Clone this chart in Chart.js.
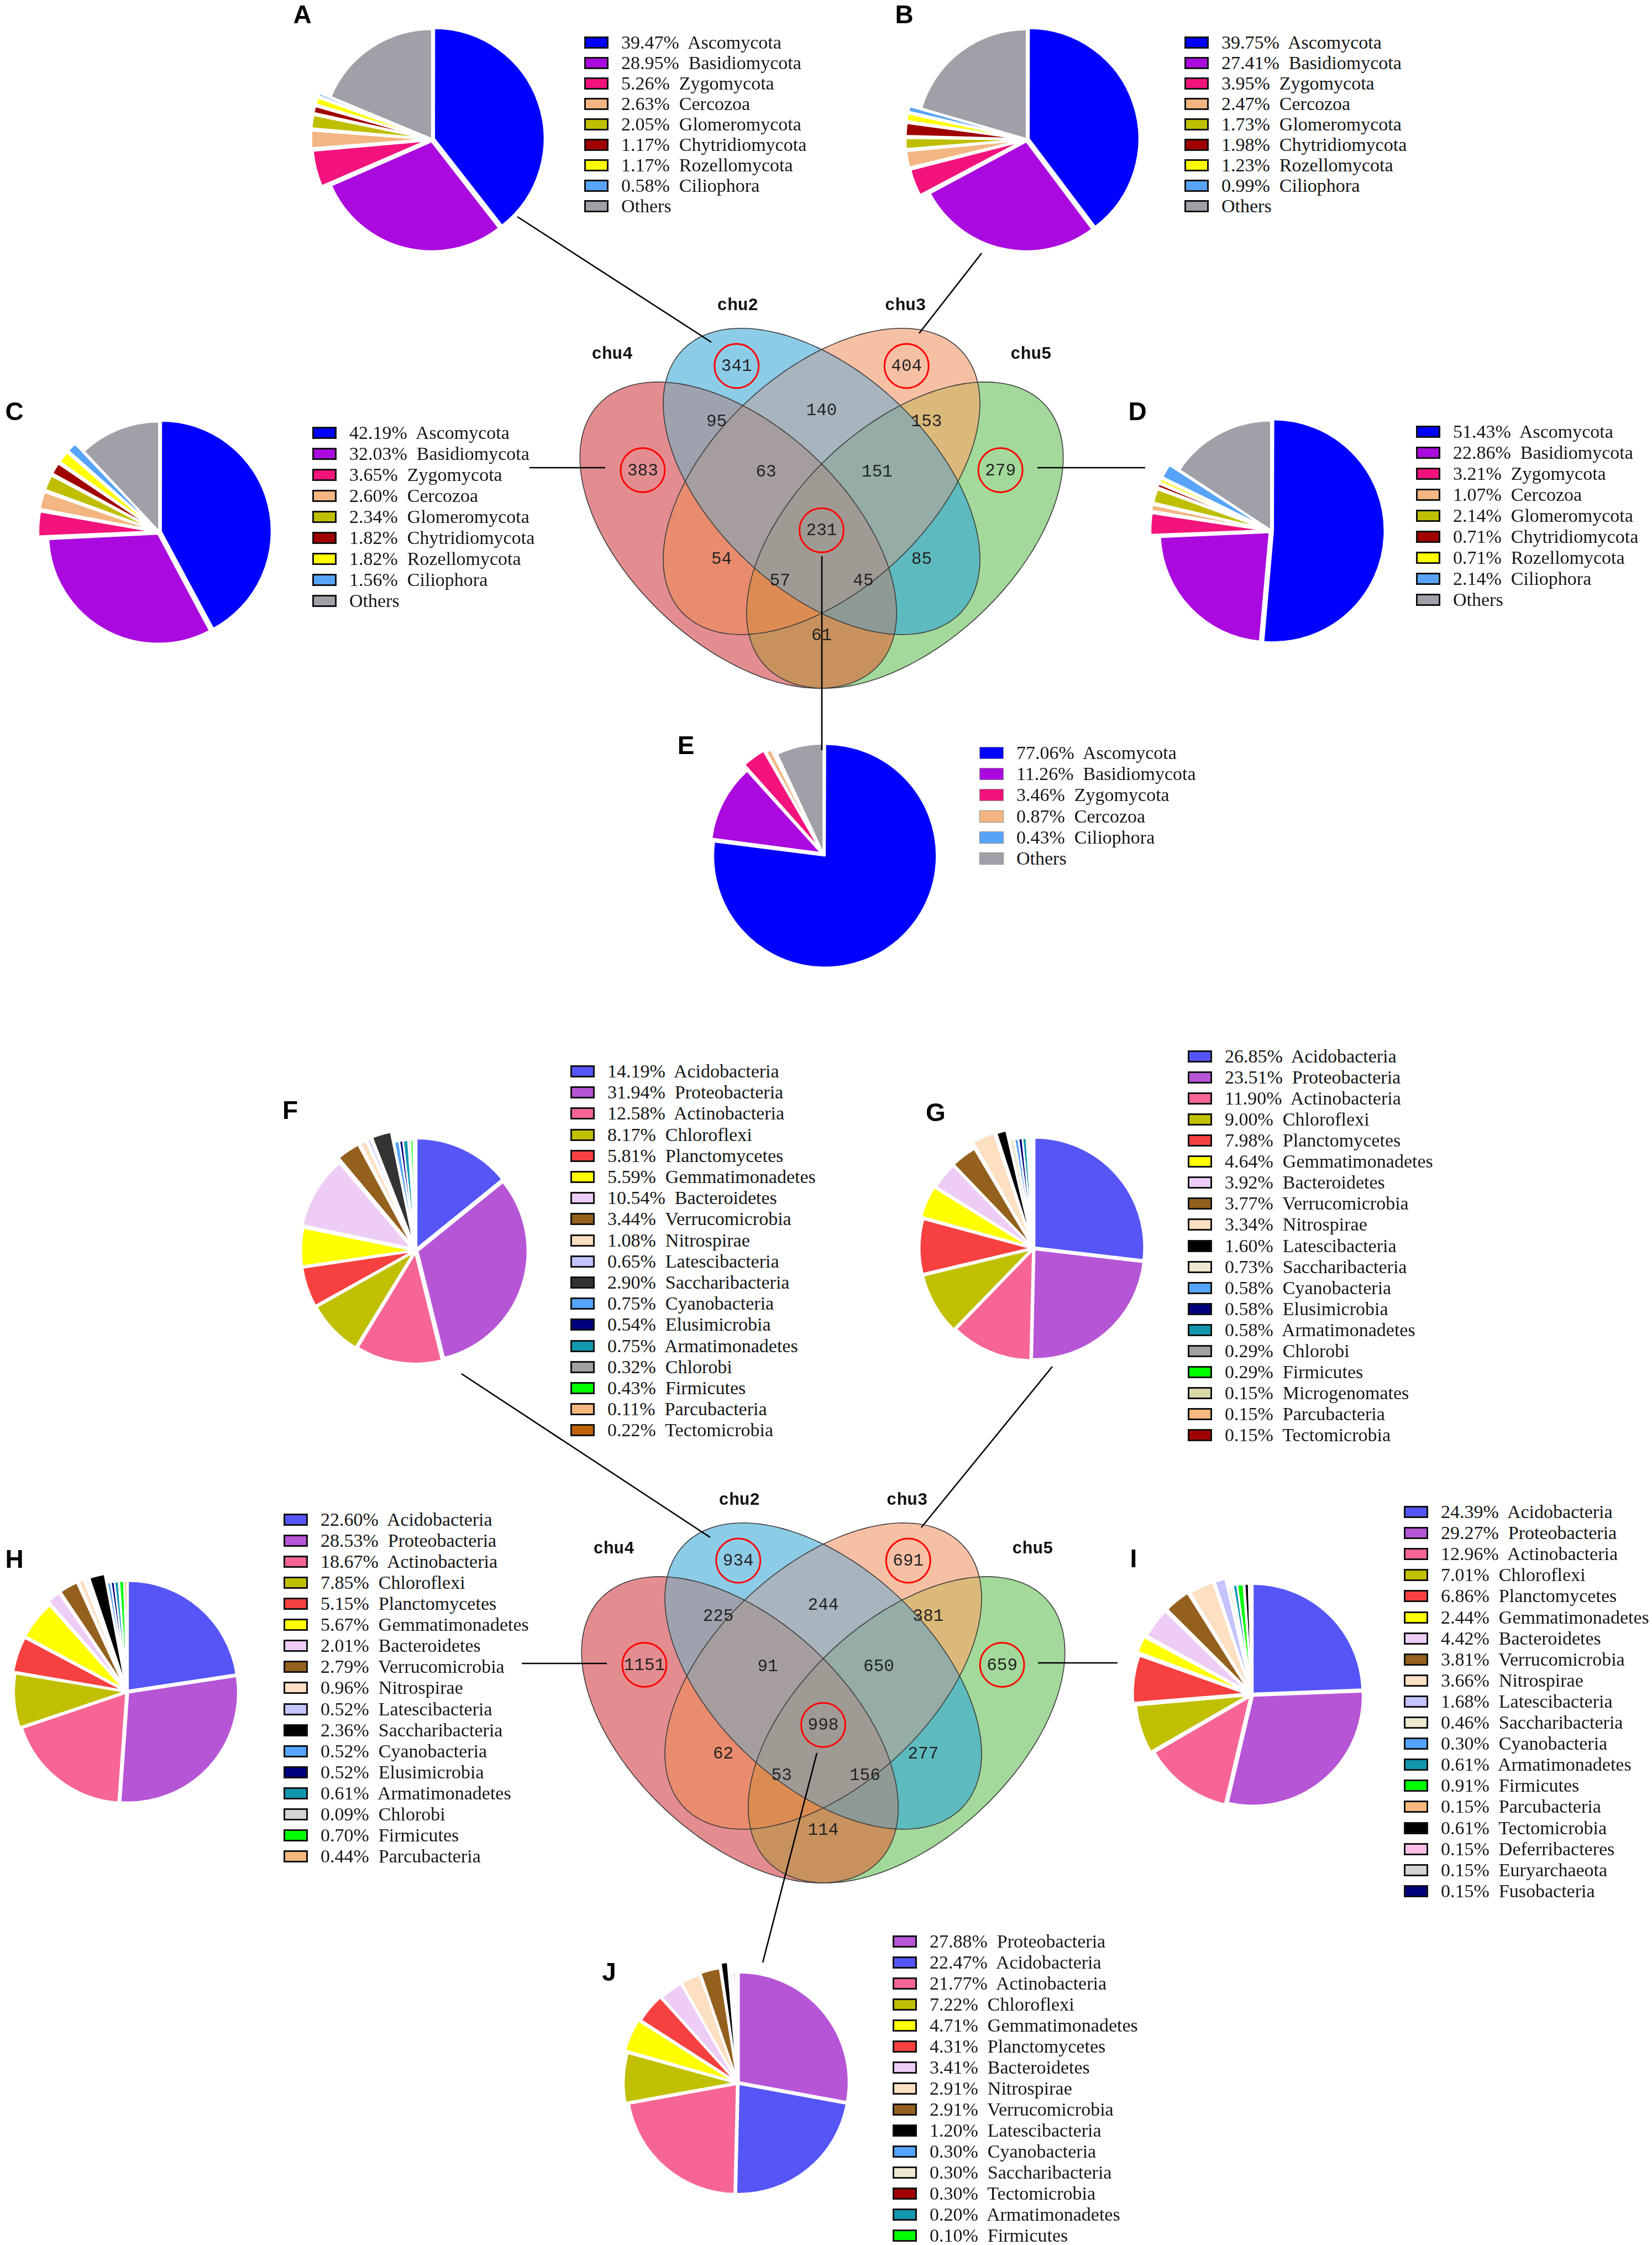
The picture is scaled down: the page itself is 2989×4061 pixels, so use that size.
<!DOCTYPE html>
<html>
<head>
<meta charset="utf-8">
<script src="https://cdn.jsdelivr.net/npm/chart.js@4.4.1/dist/chart.umd.min.js"></script>
<style>
html, body { margin:0; padding:0; background:#fff; }
#page { position:relative; width:2989px; height:4061px; overflow:hidden; background:#fff; }
.letter { position:absolute; font:bold 46px "Liberation Sans", Arial, sans-serif; color:#000; transform:translate(-50%,-50%); line-height:1; }
.lgbox { position:absolute; width:44px; height:22px; box-sizing:border-box; border:3px solid #111; }
.lgbox.thin { border:1px solid #8a8a8a; }
.lgtxt { position:absolute; font:34px "Liberation Serif", "Times New Roman", serif; color:#161616; white-space:pre; line-height:1; transform:translateY(-50%); }
svg { position:absolute; left:0; top:0; }
</style>
</head>
<body>
<div id="page"></div>
<script>
// ---------- data ----------
const fungiNames = ['Ascomycota','Basidiomycota','Zygomycota','Cercozoa','Glomeromycota','Chytridiomycota','Rozellomycota','Ciliophora','Others'];
const pieA = [39.47, 28.95, 5.26, 2.63, 2.05, 1.17, 1.17, 0.58, 18.72];
const pieB = [39.75, 27.41, 3.95, 2.47, 1.73, 1.98, 1.23, 0.99, 20.49];
const pieC = [42.19, 32.03, 3.65, 2.60, 2.34, 1.82, 1.82, 1.56, 11.99];
const pieD = [51.43, 22.86, 3.21, 1.07, 2.14, 0.71, 0.71, 2.14, 15.73];
const fungiNamesE = ['Ascomycota','Basidiomycota','Zygomycota','Cercozoa','Ciliophora','Others'];
const pieE = [77.06, 11.26, 3.46, 0.87, 0.43, 6.92];

const namesF = ['Acidobacteria','Proteobacteria','Actinobacteria','Chloroflexi','Planctomycetes','Gemmatimonadetes','Bacteroidetes','Verrucomicrobia','Nitrospirae','Latescibacteria','Saccharibacteria','Cyanobacteria','Elusimicrobia','Armatimonadetes','Chlorobi','Firmicutes','Parcubacteria','Tectomicrobia'];
const pieF = [14.19, 31.94, 12.58, 8.17, 5.81, 5.59, 10.54, 3.44, 1.08, 0.65, 2.90, 0.75, 0.54, 0.75, 0.32, 0.43, 0.11, 0.22];
const namesG = ['Acidobacteria','Proteobacteria','Actinobacteria','Chloroflexi','Planctomycetes','Gemmatimonadetes','Bacteroidetes','Verrucomicrobia','Nitrospirae','Latescibacteria','Saccharibacteria','Cyanobacteria','Elusimicrobia','Armatimonadetes','Chlorobi','Firmicutes','Microgenomates','Parcubacteria','Tectomicrobia'];
const pieG = [26.85, 23.51, 11.90, 9.00, 7.98, 4.64, 3.92, 3.77, 3.34, 1.60, 0.73, 0.58, 0.58, 0.58, 0.29, 0.29, 0.15, 0.15, 0.15];
const namesH = ['Acidobacteria','Proteobacteria','Actinobacteria','Chloroflexi','Planctomycetes','Gemmatimonadetes','Bacteroidetes','Verrucomicrobia','Nitrospirae','Latescibacteria','Saccharibacteria','Cyanobacteria','Elusimicrobia','Armatimonadetes','Chlorobi','Firmicutes','Parcubacteria'];
const pieH = [22.60, 28.53, 18.67, 7.85, 5.15, 5.67, 2.01, 2.79, 0.96, 0.52, 2.36, 0.52, 0.52, 0.61, 0.09, 0.70, 0.44];
const namesI = ['Acidobacteria','Proteobacteria','Actinobacteria','Chloroflexi','Planctomycetes','Gemmatimonadetes','Bacteroidetes','Verrucomicrobia','Nitrospirae','Latescibacteria','Saccharibacteria','Cyanobacteria','Armatimonadetes','Firmicutes','Parcubacteria','Tectomicrobia','Deferribacteres','Euryarchaeota','Fusobacteria'];
const pieI = [24.39, 29.27, 12.96, 7.01, 6.86, 2.44, 4.42, 3.81, 3.66, 1.68, 0.46, 0.30, 0.61, 0.91, 0.15, 0.61, 0.15, 0.15, 0.15];
const namesJ = ['Proteobacteria','Acidobacteria','Actinobacteria','Chloroflexi','Gemmatimonadetes','Planctomycetes','Bacteroidetes','Nitrospirae','Verrucomicrobia','Latescibacteria','Cyanobacteria','Saccharibacteria','Tectomicrobia','Armatimonadetes','Firmicutes'];
const pieJ = [27.88, 22.47, 21.77, 7.22, 4.71, 4.31, 3.41, 2.91, 2.91, 1.20, 0.30, 0.30, 0.30, 0.20, 0.10];

const vennSets = ['chu4','chu2','chu3','chu5'];
// region order: 4, 2, 3, 5, 4&2, 2&3, 3&5, 4&3, 2&5, 4&5, 4&2&3, 2&3&5, 4&3&5, 4&2&5, all
const vennFungi = [383, 341, 404, 279, 95, 140, 153, 54, 85, 61, 63, 151, 57, 45, 231];
const vennBact = [1151, 934, 691, 659, 225, 244, 381, 62, 277, 114, 91, 650, 53, 156, 998];

// ---------- styles ----------
const fungiColors = {
  Ascomycota:'#0000fe', Basidiomycota:'#aa0ade', Zygomycota:'#f3137c', Cercozoa:'#f3b581',
  Glomeromycota:'#bfbf00', Chytridiomycota:'#a00000', Rozellomycota:'#ffff00', Ciliophora:'#58a4fa', Others:'#a0a0a8'
};
const bactColors = {
  Acidobacteria:'#5555f8', Proteobacteria:'#b655d6', Actinobacteria:'#f76594', Chloroflexi:'#c0c000',
  Planctomycetes:'#f74040', Gemmatimonadetes:'#ffff00', Bacteroidetes:'#edcdf6', Verrucomicrobia:'#94601e',
  Nitrospirae:'#fddfc2', Latescibacteria:'#c4c4ff', Saccharibacteria:'#eee8d0', Cyanobacteria:'#55a5ff',
  Elusimicrobia:'#00007f', Armatimonadetes:'#1197ae', Chlorobi:'#a0a0a0', Firmicutes:'#00ff00',
  Parcubacteria:'#f5b87e', Tectomicrobia:'#a00000', Microgenomates:'#d8d8a8', Deferribacteres:'#fbbfe5',
  Euryarchaeota:'#d3d3d3', Fusobacteria:'#000080'
};
const overF = {Saccharibacteria:'#333333', Tectomicrobia:'#c06000'};
const overG = {Latescibacteria:'#000000'};
const overH = {Saccharibacteria:'#000000', Chlorobi:'#d4d4d4'};
const overI = {Tectomicrobia:'#000000'};
const overJ = {Latescibacteria:'#000000'};

// how far each slice is pulled out of its pie (px)
const offA = [15, 17, 45, 45, 45, 45, 45, 45, 4];
const offB = [15, 17, 45, 45, 45, 45, 45, 45, 4];
const offC = [14, 17, 46, 47, 47, 47, 47, 47, 4];
const offD = [14, 17, 45, 45, 45, 45, 45, 45, 4];
const offE = [16, 20, 40, 28, 28, 4];
const offF = [16, 16, 20, 22, 22, 22, 34, 44, 40, 40, 46, 4, 4, 4, 4, 4, 4, 4];
const offG = [10, 12, 14, 21, 21, 30, 23, 25, 50, 43, 5, 4, 4, 4, 4, 4, 4, 4, 4];
const offH = [10, 12, 13, 17, 26, 28, 39, 42, 41, 41, 40, 4, 4, 4, 4, 4, 4];
const offI = [10, 14, 22, 31, 43, 48, 44, 43, 37, 34, 4, 4, 4, 4, 4, 4, 4, 4, 4];
const offJ = [11, 11, 12, 21, 33, 25, 19, 21, 26, 44, 4, 4, 4, 4, 4];

const regionMasks = [1, 2, 4, 8, 3, 6, 12, 5, 10, 9, 7, 14, 13, 11, 15];
const regionColors = {1:'#e48d91', 2:'#8dcce7', 4:'#f6c0a5', 8:'#a3d99a', 3:'#9ea2af', 6:'#a8b5bf', 12:'#dbb97a',
  5:'#e98c6d', 10:'#5dbbbf', 9:'#c8925e', 7:'#a69e9e', 14:'#95ada6', 13:'#dc8c52', 11:'#8d9b94', 15:'#a09a94'};
const vennEllipses = [{x:0.35, y:0.47, rot:-45}, {x:0.5, y:0.57, rot:-45}, {x:0.5, y:0.57, rot:45}, {x:0.65, y:0.47, rot:45}];
const vennLabelPos = [[0.178,0.591],[0.347,0.785],[0.653,0.785],[0.822,0.591],[0.311,0.682],[0.5,0.703],[0.689,0.682],
  [0.320,0.426],[0.680,0.426],[0.5,0.284],[0.400,0.589],[0.600,0.589],[0.425,0.386],[0.575,0.386],[0.5,0.479]];
const vennCircled = [true, true, true, true, false, false, false, false, false, false, false, false, false, false, true];
const setLabelPos = [[0.123,0.806],[0.349,0.897],[0.651,0.897],[0.877,0.806]];

const page = document.getElementById('page');

/*venn------------------------------*/
function ellipsePath(chart, e) {
  var xs = chart.scales.x, ys = chart.scales.y;
  var a = 0.35, b = 0.2, th = e.rot * Math.PI / 180;
  var p = new Path2D();
  for (var k = 0; k <= 240; k++) {
    var t = k / 240 * Math.PI * 2;
    var ux = e.x + a * Math.cos(t) * Math.cos(th) - b * Math.sin(t) * Math.sin(th);
    var uy = e.y + a * Math.cos(t) * Math.sin(th) + b * Math.sin(t) * Math.cos(th);
    var px = xs.getPixelForValue(ux), py = ys.getPixelForValue(uy);
    if (k === 0) p.moveTo(px, py); else p.lineTo(px, py);
  }
  p.closePath();
  return p;
}

const vennPlugin = {
  id: 'venn',
  beforeDatasetsDraw(chart) {
    var ctx = chart.ctx, W = chart.width, H = chart.height;
    var paths = vennEllipses.map(function(e){ return ellipsePath(chart, e); });
    regionMasks.forEach(function(m) {
      ctx.save();
      paths.forEach(function(p, i) {
        if (m & (1 << i)) {
          ctx.clip(p);
        } else {
          var out = new Path2D();
          out.rect(-10, -10, W + 20, H + 20);
          out.addPath(p);
          ctx.clip(out, 'evenodd');
        }
      });
      ctx.fillStyle = regionColors[m];
      ctx.fillRect(0, 0, W, H);
      ctx.restore();
    });
    ctx.save();
    ctx.strokeStyle = '#3c3c3c';
    ctx.lineWidth = 1.6;
    paths.forEach(function(p){ ctx.stroke(p); });
    ctx.fillStyle = '#111';
    ctx.font = 'bold 31px "Liberation Mono", "Courier New", monospace';
    ctx.textAlign = 'center';
    ctx.textBaseline = 'middle';
    vennSets.forEach(function(s, i) {
      ctx.fillText(s, chart.scales.x.getPixelForValue(setLabelPos[i][0]), chart.scales.y.getPixelForValue(setLabelPos[i][1]));
    });
    ctx.restore();
  },
  afterDatasetsDraw(chart) {
    var ctx = chart.ctx;
    var meta = chart.getDatasetMeta(0);
    ctx.save();
    ctx.fillStyle = '#222';
    ctx.font = '31px "Liberation Mono", "Courier New", monospace';
    ctx.textAlign = 'center';
    ctx.textBaseline = 'middle';
    meta.data.forEach(function(pt, i) {
      ctx.fillText(String(chart.data.datasets[0].data[i].v), pt.x, pt.y + 1);
    });
    ctx.restore();
  }
};

function addVenn(left, top, values) {
  var W = 1091, H = 980;
  var cv = document.createElement('canvas');
  cv.width = W; cv.height = H;
  cv.style.cssText = 'position:absolute;left:' + left + 'px;top:' + top + 'px;width:' + W + 'px;height:' + H + 'px;';
  page.appendChild(cv);
  var pts = values.map(function(v, i){ return {x: vennLabelPos[i][0], y: vennLabelPos[i][1], v: v}; });
  new Chart(cv, {
    type: 'scatter',
    data: { datasets: [{
      data: pts,
      pointRadius: vennCircled.map(function(c){ return c ? 40 : 0; }),
      pointBorderColor: '#ff0000',
      pointBackgroundColor: 'rgba(0,0,0,0)',
      pointBorderWidth: 3,
      clip: false
    }]},
    options: {
      responsive: false, animation: false, devicePixelRatio: 1, events: [],
      layout: { padding: 0 },
      scales: {
        x: { type: 'linear', min: 0, max: 1, display: false },
        y: { type: 'linear', min: 0.08, max: 1.0, display: false }
      },
      plugins: { legend: { display: false }, tooltip: { enabled: false } }
    },
    plugins: [vennPlugin]
  });
}

/*pies------------------------------*/
function addPie(letter, lx, ly, cx, cy, names, values, base, over, offs, lg) {
  var size = 560;
  var cols = names.map(function(n){ return (over && over[n]) || base[n]; });
  var cv = document.createElement('canvas');
  cv.width = size; cv.height = size;
  cv.style.cssText = 'position:absolute;left:' + (cx - size / 2) + 'px;top:' + (cy - size / 2) + 'px;width:' + size + 'px;height:' + size + 'px;';
  page.appendChild(cv);
  new Chart(cv, {
    type: 'pie',
    data: { labels: names, datasets: [{ data: values, backgroundColor: cols, borderColor: '#ffffff', borderWidth: 3, offset: offs, radius: 198 }] },
    options: { responsive: false, animation: false, devicePixelRatio: 1, events: [],
      plugins: { legend: { display: false }, tooltip: { enabled: false } } }
  });
  names.forEach(function(n, i) {
    var y = lg.y + i * lg.gap;
    var box = document.createElement('div');
    box.className = 'lgbox' + (lg.thin ? ' thin' : '');
    box.style.left = lg.x + 'px';
    box.style.top = (y - 11) + 'px';
    box.style.background = cols[i];
    page.appendChild(box);
    var t = document.createElement('div');
    t.className = 'lgtxt';
    t.style.left = (lg.x + 67) + 'px';
    t.style.top = y + 'px';
    t.textContent = n === 'Others' ? 'Others' : values[i].toFixed(2) + '%  ' + n;
    page.appendChild(t);
  });
  var L = document.createElement('div');
  L.className = 'letter';
  L.style.left = lx + 'px';
  L.style.top = ly + 'px';
  L.textContent = letter;
  page.appendChild(L);
}

addVenn(941, 410, vennFungi);
addVenn(944, 2571, vennBact);

addPie('A', 547, 26, 782, 252, fungiNames, pieA, fungiColors, null, offA, {x:1057, y:77, gap:37});
addPie('B', 1636, 26, 1858, 252, fungiNames, pieB, fungiColors, null, offB, {x:2143, y:77, gap:37});
addPie('C', 26, 744, 288, 962, fungiNames, pieC, fungiColors, null, offC, {x:565, y:783, gap:38});
addPie('D', 2058, 744, 2300, 960, fungiNames, pieD, fungiColors, null, offD, {x:2562, y:781, gap:38});
addPie('E', 1241, 1348, 1490, 1545, fungiNamesE, pieE, fungiColors, null, offE, {x:1772, y:1362, gap:38.2, thin:true});
addPie('F', 525, 2008, 752, 2262, namesF, pieF, bactColors, overF, offF, {x:1032, y:1938, gap:38.2});
addPie('G', 1693, 2012, 1870, 2258, namesG, pieG, bactColors, overG, offG, {x:2149, y:1911, gap:38.06});
addPie('H', 26, 2820, 230, 3060, namesH, pieH, bactColors, overH, offH, {x:513, y:2749, gap:38.06});
addPie('I', 2051, 2819, 2265, 3065, namesI, pieI, bactColors, overI, offI, {x:2540, y:2735, gap:38.1});
addPie('J', 1102, 3567, 1335, 3768, namesJ, pieJ, bactColors, overJ, offJ, {x:1615, y:3512, gap:38.0});

/*connector lines------------------------------*/
const links = [
  [936, 392, 1287, 619], [1776, 458, 1663, 603], [958, 846, 1095, 846], [1877, 846, 2072, 846], [1487, 1006, 1487, 1357],
  [835, 2485, 1285, 2781], [1904, 2472, 1667, 2763], [944, 3009, 1098, 3009], [1878, 3008, 2022, 3008], [1478, 3171, 1380, 3550]
];
var svg = '<svg width="2989" height="4061" xmlns="http://www.w3.org/2000/svg">';
links.forEach(function(l){
  svg += '<line x1="' + l[0] + '" y1="' + l[1] + '" x2="' + l[2] + '" y2="' + l[3] + '" stroke="#000" stroke-width="2.6"/>';
});
svg += '</svg>';
page.insertAdjacentHTML('beforeend', svg);
</script>
</body>
</html>
